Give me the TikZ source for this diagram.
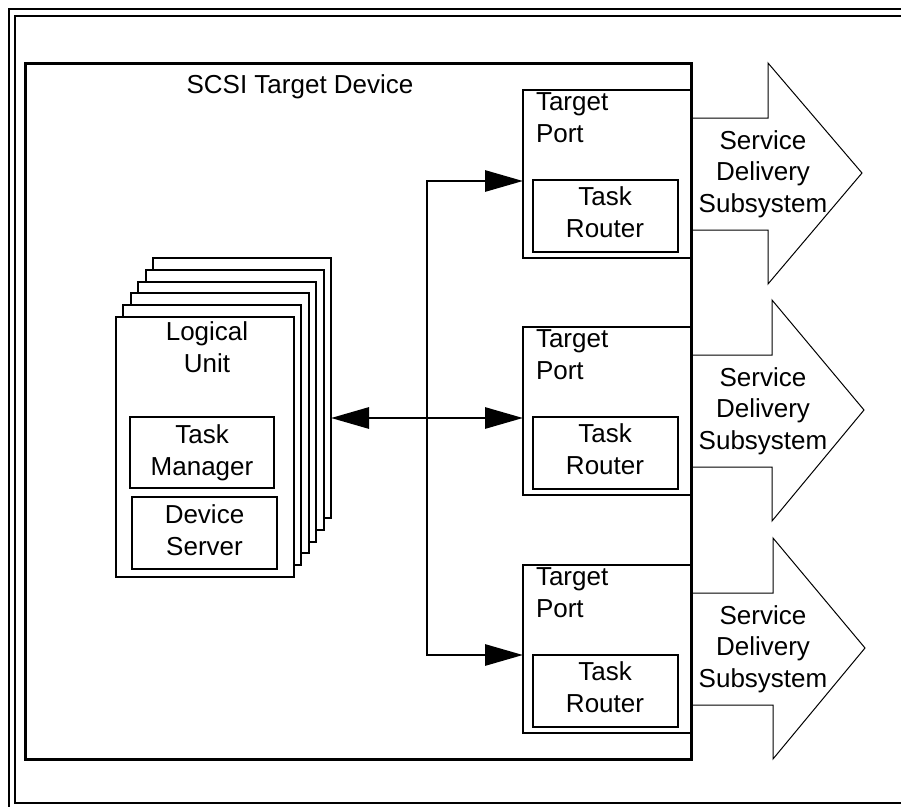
\documentclass[tikz,border=0pt]{standalone}
\usepackage{fontspec}
\setmainfont{Liberation Sans}
\usetikzlibrary{arrows.meta}
\begin{document}
\begin{tikzpicture}[x=0.75pt,y=-0.75pt,
  txt/.style={font=\fontsize{19.5}{23.6}\selectfont, inner sep=0pt, outer sep=0pt, align=center},
  txtl/.style={font=\fontsize{19.5}{23.6}\selectfont, inner sep=0pt, outer sep=0pt, align=left},
  box/.style={draw, line width=1.5pt, inner sep=0pt, outer sep=0pt, anchor=north west},
  mainbox/.style={draw, line width=2.25pt, inner sep=0pt, outer sep=0pt, anchor=north west},
  framel/.style={line width=1.5pt},
  bus/.style={line width=2.2pt, line join=miter},
  tips/.style={{Triangle[length=28.5pt,width=15.75pt]}-{Triangle[length=28.5pt,width=15.75pt]}},
  sds/.style={line width=0.75pt, line join=miter}
]
\useasboundingbox (0,0) rectangle (901,807);
% outer frames
\draw[framel] (9,807) -- (9,9) -- (901,9);
\draw[framel] (901,16) -- (15,16) -- (15,803) -- (901,803);

% logical unit stack
\foreach \k in {5,4,3,2,1,0} {
  \node[box, fill=white, minimum width=178*0.75pt, minimum height=260*0.75pt] (lu\k) at ({116+7.4*\k},{317-11.8*\k}) {};
}
\node[txt, anchor=base] (lulbl) at (207,372) {Logical\\Unit};
\node[box, minimum width=144*0.75pt, minimum height=71*0.75pt] (tm) at (130,417) {};
\node[txt, anchor=base] (tmlbl) at (202,475) {Task\\Manager};
\node[box, minimum width=145*0.75pt, minimum height=72*0.75pt] (ds) at (132,497) {};
\node[txt, anchor=base] (dslbl) at (204.5,555) {Device\\Server};

% target ports and service delivery subsystems
\foreach \i/\t/\hb/\tp in {1/90/768/862, 2/327/772/864, 3/565/773/865} {
  \node[box, minimum width=168*0.75pt, minimum height=168*0.75pt] (p\i) at (523,\t) {};
  \node[txtl, anchor=base west] (pl\i) at (536,{\t+52}) {Target\\Port};
  \node[box, minimum width=145*0.75pt, minimum height=72*0.75pt] (tr\i) at (533,{\t+90}) {};
  \node[txt, anchor=base] (trl\i) at (605,{\t+147}) {Task\\Router};
  \draw[sds] (691,{\t+28}) -- (\hb,{\t+28}) -- (\hb,{\t-27}) -- (\tp,{\t+83})
     -- (\hb,{\t+194}) -- (\hb,{\t+140}) -- (691,{\t+140});
  \node[txt, anchor=base] (sds\i) at (763,{\t+122}) {Service\\Delivery\\Subsystem};
}

% main device box
\node[mainbox, minimum width=666*0.75pt, minimum height=696*0.75pt] (dev) at (25,63) {};
\node[txt, anchor=base] (devlbl) at (300,93) {SCSI Target Device};

% bus
\coordinate (jt) at (427,181);
\coordinate (jm) at (427,418);
\coordinate (jb) at (427,655);
\draw[bus, tips] (p1.west |- jt) -- (jt) -- (jb) -- (p3.west |- jb);
\draw[bus, tips] (lu5.east |- jm) -- (p2.west |- jm);
\end{tikzpicture}
\end{document}
